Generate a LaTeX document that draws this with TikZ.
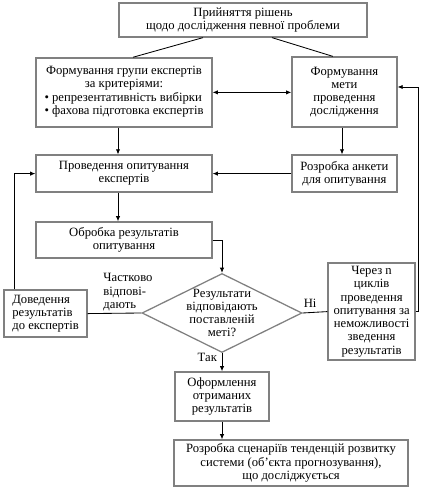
\documentclass[tikz,border=0pt]{standalone}
\usepackage{fontspec}
\setmainfont{Liberation Serif}
\usetikzlibrary{arrows.meta,positioning,shapes.geometric}

\begin{document}
\begin{tikzpicture}[
    every node/.style={font=\fontsize{9}{9.4}\selectfont},
    block/.style={draw=gray, line width=0.9pt, align=center, inner sep=1pt},
    decision/.style={diamond, draw=gray, line width=0.9pt, minimum width=4cm, minimum height=1.975cm, inner sep=0pt},
    link/.style={line width=0.6pt},
    >={Latex[length=1.3mm,width=1.1mm]}
]
    \useasboundingbox (0,0) rectangle (10.5,12.25);

    \node[block, minimum width=6.2cm, minimum height=0.85cm] (top) at (6.075,11.75) {Прийняття рішень\\щодо дослідження певної проблеми};
    \node[block, minimum width=4.4cm, minimum height=1.725cm] (group) at (3.1,9.94) {Формування групи експертів\\за критеріями:\\\begin{tabular}{@{}l@{}}\textbullet\ репрезентативність вибірки\\\textbullet\ фахова підготовка експертів\end{tabular}};
    \node[block, minimum width=2.625cm, minimum height=1.75cm] (goal) at (8.61,9.95) {Формування\\мети\\проведення\\дослідження};
    \node[block, minimum width=4.4cm, minimum height=0.925cm] (survey) at (3.1,7.91) {Проведення опитування\\експертів};
    \node[block, minimum width=2.625cm, minimum height=0.925cm] (form) at (8.61,7.91) {Розробка анкети\\для опитування};
    \node[block, minimum width=4.4cm, minimum height=0.9cm] (process) at (3.1,6.25) {Обробка результатів\\опитування};
    \node[decision] (check) at (5.55,4.425) {};
    \node[align=center] (checktext) at (check) {Результати\\відповідають\\поставленій\\меті?};
    \node[block, align=left, minimum width=2.075cm, minimum height=1.175cm] (inform) at (1.14,4.41) {Доведення\\результатів\\до експертів};
    \node[block, minimum width=2.175cm, minimum height=2.425cm] (cycles) at (9.29,4.46) {Через n\\циклів\\проведення\\опитування за\\неможливості\\зведення\\результатів};
    \node[block, minimum width=2.35cm, minimum height=1.225cm] (final) at (5.55,2.34) {Оформлення\\отриманих\\результатів};
    \node[block, minimum width=5.85cm, minimum height=1.15cm] (scenario) at (7.275,0.675) {Розробка сценаріїв тенденцій розвитку\\системи (об’єкта прогнозування),\\що досліджується};

    \draw[link] ([xshift=-1cm]top.south) -- ([xshift=0.225cm]group.north);
    \draw[link] ([xshift=0.725cm]top.south) -- ([xshift=-0.29cm]goal.north);
    \draw[link,<->] (group.east) -- (group.east -| goal.west);
    \draw[link,->] ([xshift=-0.15cm]group.south) -- ([xshift=-0.15cm]survey.north);
    \draw[link,->] ([xshift=-0.06cm]goal.south) -- ([xshift=-0.06cm]form.north);
    \draw[link,->] (form.west) -- (survey.east);
    \draw[link,->] ([xshift=-0.15cm]survey.south) -- ([xshift=-0.15cm]process.north);
    \draw[link,->] (process.east) -| (check.north);
    \draw[link] (check.west) -- node[pos=0.25, above, align=left, yshift=-2pt] {Частково\\відпові-\\дають} (inform.east);
    \draw[link,->] ([xshift=-0.79cm]inform.north) |- (survey.west);
    \draw[link] (check.east) -- node[pos=0.3, above] {Ні} (cycles.west);
    \draw[link,->] (cycles.east) -- ++(0.06,0) |- ([yshift=0.125cm]goal.east);
    \draw[link,->] (check.south) -- node[pos=0.25, left] {Так} (final.north);
    \draw[link,->] (final.south) -- (final.south |- scenario.north);
\end{tikzpicture}
\end{document}
